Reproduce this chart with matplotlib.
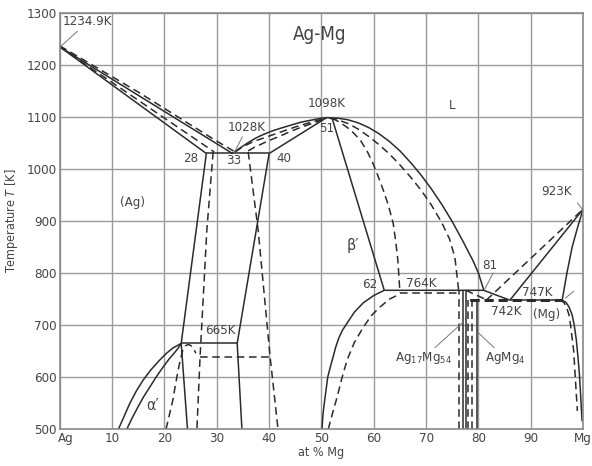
import matplotlib.pyplot as plt
from matplotlib.transforms import ScaledTranslation

plt.rcParams['font.family'] = ['DejaVu Sans']
plt.rcParams['font.stretch'] = 'condensed'

# composition (at % Mg) / temperature (K) pairs
# --- solid boundaries ---
ag_liq_x, ag_liq_t = [0, 33], [1235, 1030]
ag_sol_x, ag_sol_t = [0, 28], [1235, 1030]
eut_x, eut_t = [28, 40], [1030, 1030]
b_liq_l_x = [33, 34.5, 36, 37.5, 39, 40.5, 42, 44, 46, 48, 50, 51]
b_liq_l_t = [1030, 1041, 1051, 1060, 1067, 1073, 1078, 1084, 1090, 1094, 1098, 1099]
b_sol_l_x, b_sol_l_t = [40, 51], [1030, 1099]
b_liq_r_x = [51, 53, 55, 57, 59, 61, 63, 65, 67, 69, 71, 73, 75, 77, 79, 80, 81]
b_liq_r_t = [1099, 1098, 1095, 1089, 1080, 1068, 1053, 1035, 1013, 989, 962,
             932, 899, 862, 823, 800, 768]
b_sol_r_x, b_sol_r_t = [52, 62], [1099, 767]
perit_x, perit_t = [62, 77.6, 81, 86], [767, 767, 767, 748]
mg_liq_x, mg_liq_t = [86, 100], [748, 923]
mg_sol_x, mg_sol_t = [96, 96.9, 97.9, 99, 100], [748, 800, 850, 890, 923]
mg_eut_x, mg_eut_t = [86, 96], [748, 748]
mg_solv_x = [96, 96.7, 97.3, 97.9, 98.3, 98.7, 99, 99.3, 99.5, 99.8]
mg_solv_t = [748, 744, 735, 720, 700, 672, 640, 605, 570, 515]
bl_x = [50.1, 50.3, 50.7, 51.2, 51.7, 52.2, 52.7, 53.3, 54, 54.9, 56.3, 58, 60, 62]
bl_t = [500, 530, 562, 600, 620, 638, 657, 675, 690, 704, 725, 743, 757, 767]
a_out_x = [11.2, 12.3, 13.4, 14.6, 15.9, 17.4, 19.1, 20.4, 21.6, 22.5, 23.2]
a_out_t = [500, 525, 550, 573, 594, 614, 633, 646, 656, 661, 665]
a_in_x = [12.8, 13.8, 14.9, 16, 17.2, 18.4, 19.7, 20.9, 22, 22.7, 23.2]
a_in_t = [500, 521, 542, 562, 581, 600, 619, 635, 648, 657, 665]
ab_low_x, ab_low_t = [24.4, 23.2, 28], [500, 665, 1030]
t665_x, t665_t = [23.2, 33.9], [665, 665]
br_x, br_t = [40, 33.9, 34.8], [1030, 665, 500]
c1754_a_x, c1754_b_x = [77.1, 77.1], [77.6, 77.6]
c1754_t = [500, 768]
cmg4_x, cmg4_t = [78.3, 79.8, 79.8], [748, 748, 500]

# --- dashed boundaries ---
d_ag_liq_x, d_ag_liq_t = [0, 15, 29.3, 33.5], [1237, 1148, 1058, 1033]
d_ag_sol_x, d_ag_sol_t = [0, 29.5], [1235, 1033]
d_bl_x, d_bl_t = [29.3, 28.1, 26.8, 26.2], [1033, 883, 638, 500]
d_638_x, d_638_t = [26.8, 40.2], [638, 638]
d_br_x, d_br_t = [36, 37.9, 40.2, 41.7], [1033, 883, 638, 500]
d_bliq_l_x = [33.5, 35, 37, 39, 41, 43, 45, 47, 49, 51]
d_bliq_l_t = [1033, 1043, 1053, 1060, 1067, 1074, 1081, 1087, 1093, 1098]
d_bsol_l_x = [36, 37.2, 38.5, 40, 42, 44, 46, 48, 51]
d_bsol_l_t = [1035, 1042, 1048, 1055, 1063, 1072, 1080, 1087, 1098]
d_dome_x = [20.3, 21, 21.6, 22.1, 22.6, 23.1, 23.5, 24, 24.5, 25, 25.5, 26]
d_dome_t = [500, 530, 556, 585, 613, 636, 652, 660, 663, 661, 656, 646]
d_bsol_r_x = [52, 53.5, 55.5, 57.4, 58.7, 59.8, 60.8, 61.8, 62.8, 63.7, 64.2, 64.6, 65]
d_bsol_r_t = [1098, 1090, 1076, 1056, 1035, 1012, 987, 960, 930, 896, 860, 825, 762]
d_bliq_r_x = [51.5, 53, 55, 57, 59, 61, 63, 65, 67, 69, 71, 73, 74.5, 75.5, 76.2]
d_bliq_r_t = [1098, 1095, 1088, 1077, 1063, 1047, 1029, 1008, 985, 960, 931,
              897, 865, 830, 768]
d_perit_x, d_perit_t = [65, 76.2], [762, 762]
d_bl_low_x = [51.3, 52.1, 53, 53.9, 54.9, 56.3, 58, 59.5, 61.2, 63, 65]
d_bl_low_t = [500, 530, 562, 598, 633, 667, 696, 718, 735, 750, 760]
d_1754_x, d_1754_t = [76.2, 76.2], [500, 768]
d_mg4_a_x, d_mg4_b_x = [78.0, 78.0], [78.8, 78.8]
d_mg4_t = [500, 748]
d_tail_x, d_tail_t = [77.6, 81.5], [767, 749]
d_mg_liq_x, d_mg_liq_t = [81.5, 100], [748, 923]
d_eut_x, d_eut_t = [78.3, 96], [748, 748]
d_mg_solv_x = [95.5, 96.3, 96.8, 97.3, 97.6, 98.2, 98.5, 98.9]
d_mg_solv_t = [748, 744, 735, 720, 700, 650, 600, 535]

x_ticks = [0, 10, 20, 30, 40, 50, 60, 70, 80, 90, 100]
x_labels = ['Ag', '10', '20', '30', '40', '50', '60', '70', '80', '90', 'Mg']
y_ticks = [500, 600, 700, 800, 900, 1000, 1100, 1200, 1300]

solid = [
    (ag_liq_x, ag_liq_t), (ag_sol_x, ag_sol_t), (eut_x, eut_t),
    (b_liq_l_x, b_liq_l_t), (b_sol_l_x, b_sol_l_t), (b_liq_r_x, b_liq_r_t),
    (b_sol_r_x, b_sol_r_t), (perit_x, perit_t), (mg_liq_x, mg_liq_t),
    (mg_sol_x, mg_sol_t), (mg_eut_x, mg_eut_t), (mg_solv_x, mg_solv_t),
    (bl_x, bl_t), (a_out_x, a_out_t), (a_in_x, a_in_t), (ab_low_x, ab_low_t),
    (t665_x, t665_t), (br_x, br_t), (c1754_a_x, c1754_t), (c1754_b_x, c1754_t),
    (cmg4_x, cmg4_t),
]
dashed = [
    (d_ag_liq_x, d_ag_liq_t), (d_ag_sol_x, d_ag_sol_t), (d_bl_x, d_bl_t),
    (d_638_x, d_638_t), (d_br_x, d_br_t), (d_bliq_l_x, d_bliq_l_t),
    (d_bsol_l_x, d_bsol_l_t), (d_dome_x, d_dome_t), (d_bsol_r_x, d_bsol_r_t),
    (d_bliq_r_x, d_bliq_r_t), (d_perit_x, d_perit_t), (d_bl_low_x, d_bl_low_t),
    (d_1754_x, d_1754_t), (d_mg4_a_x, d_mg4_t), (d_mg4_b_x, d_mg4_t),
    (d_tail_x, d_tail_t), (d_mg_liq_x, d_mg_liq_t), (d_mg_solv_x, d_mg_solv_t),
]

fig = plt.figure(figsize=(5.92, 4.66), dpi=100)
ax = fig.add_axes([0.101, 0.079, 0.884, 0.893])

line_col = '#2b2b2b'
for xs, ts in solid:
    ax.plot(xs, ts, color=line_col, lw=1.1, solid_capstyle='butt')
for xs, ts in dashed:
    ax.plot(xs, ts, color=line_col, lw=1.1, dashes=(5, 3))
# heavy dashed eutectic line at 747 K
ax.plot(d_eut_x, d_eut_t, color=line_col, lw=2.2, dashes=(3, 1.6))

ax.set_xlim(0, 100)
ax.set_ylim(500, 1300)
ax.set_xticks(x_ticks, x_labels)
ax.set_yticks(y_ticks)
ax.grid(True, color='#9a9a9a', lw=1.0)
ax.set_axisbelow(True)
ax.tick_params(length=0, labelsize=9.5, colors='#444444', pad=2)
# nudge the "Ag" label right so it clears the 500 tick
xt = ax.get_xticklabels()
xt[0].set_transform(xt[0].get_transform() + ScaledTranslation(6 / 100, 0, fig.dpi_scale_trans))
for s in ax.spines.values():
    s.set_color('#8a8a8a')
    s.set_linewidth(1.2)
ax.set_xlabel('at % Mg', fontsize=9, color='#444444', labelpad=1)
ax.set_ylabel('Temperature $T$ [K]', fontsize=9, color='#444444', labelpad=5)

fs = 9.5
txt = dict(color='#444444', fontsize=fs, ha='center', va='center')
ax.text(49.7, 1258, 'Ag-Mg', **{**txt, 'fontsize': 13.5})
ax.text(75, 1123, 'L', **txt)
ax.text(51, 1127, '1098K', **txt)
ax.text(51, 1078, '51', **txt)
ax.text(25, 1020, '28', **txt)
ax.text(33.2, 1017, '33', **txt)
ax.text(42.8, 1020, '40', **txt)
ax.text(13.8, 935, '(Ag)', **txt)
ax.text(56, 853, "β′", **{**txt, 'fontsize': 11.5})
ax.text(95, 956, '923K', **txt)
ax.text(59.3, 779, '62', **txt)
ax.text(69, 781, '764K', **txt)
ax.text(82.2, 815, '81', **txt)
ax.text(91.2, 763, '747K', **txt)
ax.text(85.3, 726, '742K', **txt)
ax.text(93, 721, '(Mg)', **txt)
ax.text(30.6, 689, '665K', **txt)
ax.text(17.8, 546, "α′", **{**txt, 'fontsize': 11.5})

lead = dict(arrowstyle='-', color='#777777', lw=0.7, shrinkA=0, shrinkB=0)
ax.annotate('1234.9K', xy=(0.2, 1236), xytext=(0.6, 1283), ha='left', va='center',
            color='#444444', fontsize=fs, arrowprops=lead)
ax.annotate('1028K', xy=(33.3, 1031), xytext=(35.8, 1080), ha='center', va='center',
            color='#444444', fontsize=fs, arrowprops=lead)
ax.annotate('', xy=(99.9, 922), xytext=(98.9, 935), arrowprops=lead)
ax.annotate('', xy=(81.2, 769), xytext=(82.8, 800), arrowprops=lead)
ax.annotate('', xy=(96.6, 752), xytext=(98.2, 765), arrowprops=lead)
ax.annotate('Ag$_{17}$Mg$_{54}$', xy=(77.1, 706), xytext=(69.4, 636), ha='center',
            va='center', color='#444444', fontsize=fs, arrowprops=lead)
ax.annotate('AgMg$_4$', xy=(79.9, 686), xytext=(85.2, 636), ha='center',
            va='center', color='#444444', fontsize=fs, arrowprops=lead)

fig.savefig('out.png', dpi=100)
